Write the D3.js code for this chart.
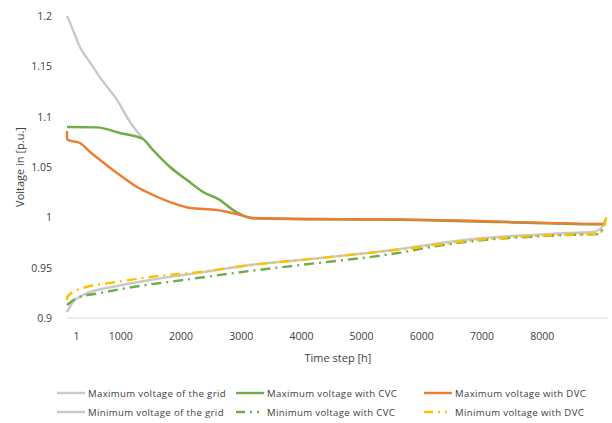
<!DOCTYPE html>
<html>
<head>
<meta charset="utf-8">
<script src="https://cdn.jsdelivr.net/npm/d3@7"></script>
<style>
  body { margin: 0; background: #fff; }
  text { font-family: "Open Sans", sans-serif; fill: #404040; }
</style>
</head>
<body>
<div id="chart"></div>
<script>
// values: time step [h] and voltage [p.u.]
const maxGridT = [116, 133, 216, 332, 498, 664, 947, 1163, 1378, 1544, 1827, 2109, 2375, 2657, 2873, 3105, 3205, 4318, 5646, 7307, 9017, 9060]
const maxGridV = [1.200, 1.198, 1.186, 1.169, 1.154, 1.139, 1.1166, 1.0947, 1.078, 1.0669, 1.050, 1.0371, 1.0252, 1.0172, 1.0073, 1.0003, 0.9993, 0.9983, 0.998, 0.9957, 0.9934, 0.9934]

const maxCvcT = [116, 133, 614, 996, 1378, 1544, 1827, 2109, 2375, 2657, 2873, 3105, 3205, 4318, 5646, 7307, 9017, 9060]
const maxCvcV = [1.0897, 1.0897, 1.0894, 1.0838, 1.0778, 1.0669, 1.050, 1.0371, 1.0252, 1.0172, 1.0073, 1.0003, 0.9990, 0.9980, 0.9975, 0.9952, 0.9930, 0.9930]

const maxDvcT = [116, 118, 133, 332, 498, 664, 947, 1279, 1544, 1827, 2159, 2607, 2939, 3205, 4318, 5646, 7307, 9017, 9060]
const maxDvcV = [1.0858, 1.0780, 1.0768, 1.0738, 1.0649, 1.0570, 1.0440, 1.0301, 1.0222, 1.0152, 1.0093, 1.0073, 1.0033, 0.9993, 0.9983, 0.998, 0.9957, 0.9934, 0.9934]

const minGridT = [116, 216, 382, 947, 1495, 2043, 2607, 3155, 3985, 5646, 6476, 7024, 7854, 8418, 8850, 9000, 9060]
const minGridV = [0.906, 0.9159, 0.9228, 0.9318, 0.9377, 0.9427, 0.9477, 0.9526, 0.9576, 0.9685, 0.9758, 0.9795, 0.9825, 0.9844, 0.9854, 0.9904, 0.9974]

const minCvcT = [116, 282, 664, 1212, 2043, 3155, 3985, 5646, 6191, 7024, 7854, 8418, 8967, 9017, 9060]
const minCvcV = [0.9129, 0.9199, 0.9248, 0.9308, 0.9377, 0.9467, 0.9526, 0.9649, 0.9708, 0.9775, 0.9808, 0.9825, 0.9834, 0.9904, 0.9974]

const minDvcT = [116, 118, 382, 947, 1495, 2325, 3155, 3985, 5646, 7024, 7854, 8967, 9017, 9075]
const minDvcV = [0.9179, 0.9210, 0.9298, 0.9358, 0.9407, 0.9457, 0.9526, 0.9576, 0.9680, 0.9782, 0.9815, 0.9840, 0.9904, 1.0000]

const xTicks = [1, 1000, 2000, 3000, 4000, 5000, 6000, 7000, 8000]
const yTicks = [0.9, 0.95, 1, 1.05, 1.1, 1.15, 1.2]

const seriesNames = ["Maximum voltage of the grid", "Maximum voltage with CVC", "Maximum voltage with DVC",
                     "Minimum voltage of the grid", "Minimum voltage with CVC", "Minimum voltage with DVC"]
const seriesT = [maxGridT, maxCvcT, maxDvcT, minGridT, minCvcT, minDvcT]
const seriesV = [maxGridV, maxCvcV, maxDvcV, minGridV, minCvcV, minDvcV]
const seriesColors = ["#c9c9c9", "#70ad47", "#ed7d31", "#c9c9c9", "#70ad47", "#ffc000"]
const seriesDash = [null, null, null, null, "10,5,2,5", "10,5,2,5"]

const width = 612
const height = 423

const svg = d3.select("#chart").append("svg")
    .attr("width", width)
    .attr("height", height)

const x = d3.scaleLinear().domain([0, 9100]).range([60, 608])
const y = d3.scaleLinear().domain([0.9, 1.2]).range([318, 16])

// bottom axis line
svg.append("line")
    .attr("x1", x(116)).attr("x2", x(9100))
    .attr("y1", y(0.9)).attr("y2", y(0.9))
    .attr("stroke", "#d9d9d9")
    .attr("stroke-width", 1)

// x axis labels
const xAxis = svg.append("g")
    .attr("transform", "translate(0," + y(0.9) + ")")
    .call(d3.axisBottom(x).tickValues(xTicks).tickSize(0).tickPadding(15).tickFormat(d3.format("d")))
xAxis.select(".domain").remove()
xAxis.selectAll("text")
    .style("font-size", "10.5px")
    .style("fill", "#404040")
    .attr("dx", d => d === 1 ? 16 : 0)

// y axis labels
const yAxis = svg.append("g")
    .attr("transform", "translate(52,0)")
    .call(d3.axisLeft(y).tickValues(yTicks).tickSize(0).tickPadding(0).tickFormat(d => String(+d.toFixed(2))))
yAxis.select(".domain").remove()
yAxis.selectAll("text")
    .style("font-size", "10.5px")
    .style("fill", "#404040")

// axis titles
svg.append("text")
    .attr("x", 338).attr("y", 362)
    .attr("text-anchor", "middle")
    .style("font-size", "11px")
    .text("Time step [h]")

svg.append("text")
    .attr("transform", "translate(24,167) rotate(-90)")
    .attr("text-anchor", "middle")
    .style("font-size", "11px")
    .text("Voltage in [p.u.]")

// lines
const line = d3.line()
    .x(d => x(d[0]))
    .y(d => y(d[1]))
    .curve(d3.curveMonotoneX)

const drawOrder = [0, 3, 1, 2, 4, 5]
for (const i of drawOrder) {
    const pts = seriesT[i].map((t, j) => [t, seriesV[i][j]])
    svg.append("path")
        .attr("d", line(pts))
        .attr("fill", "none")
        .attr("stroke", seriesColors[i])
        .attr("stroke-width", 2.4)
        .attr("stroke-linejoin", "round")
        .attr("stroke-dasharray", seriesDash[i])
}

// legend
const legendX = [57, 236, 424]
const legendY = [393, 412]
const legend = svg.append("g")
seriesNames.forEach((name, i) => {
    const lx = legendX[i % 3]
    const ly = legendY[Math.floor(i / 3)]
    legend.append("line")
        .attr("x1", lx).attr("x2", lx + 28)
        .attr("y1", ly).attr("y2", ly)
        .attr("stroke", seriesColors[i])
        .attr("stroke-width", 2.4)
        .attr("stroke-dasharray", seriesDash[i] ? "9,5,2,5,2,5" : null)
    legend.append("text")
        .attr("x", lx + 31).attr("y", ly + 3.5)
        .style("font-size", "9.6px")
        .style("letter-spacing", "0.35px")
        .text(name)
})
</script>
</body>
</html>
